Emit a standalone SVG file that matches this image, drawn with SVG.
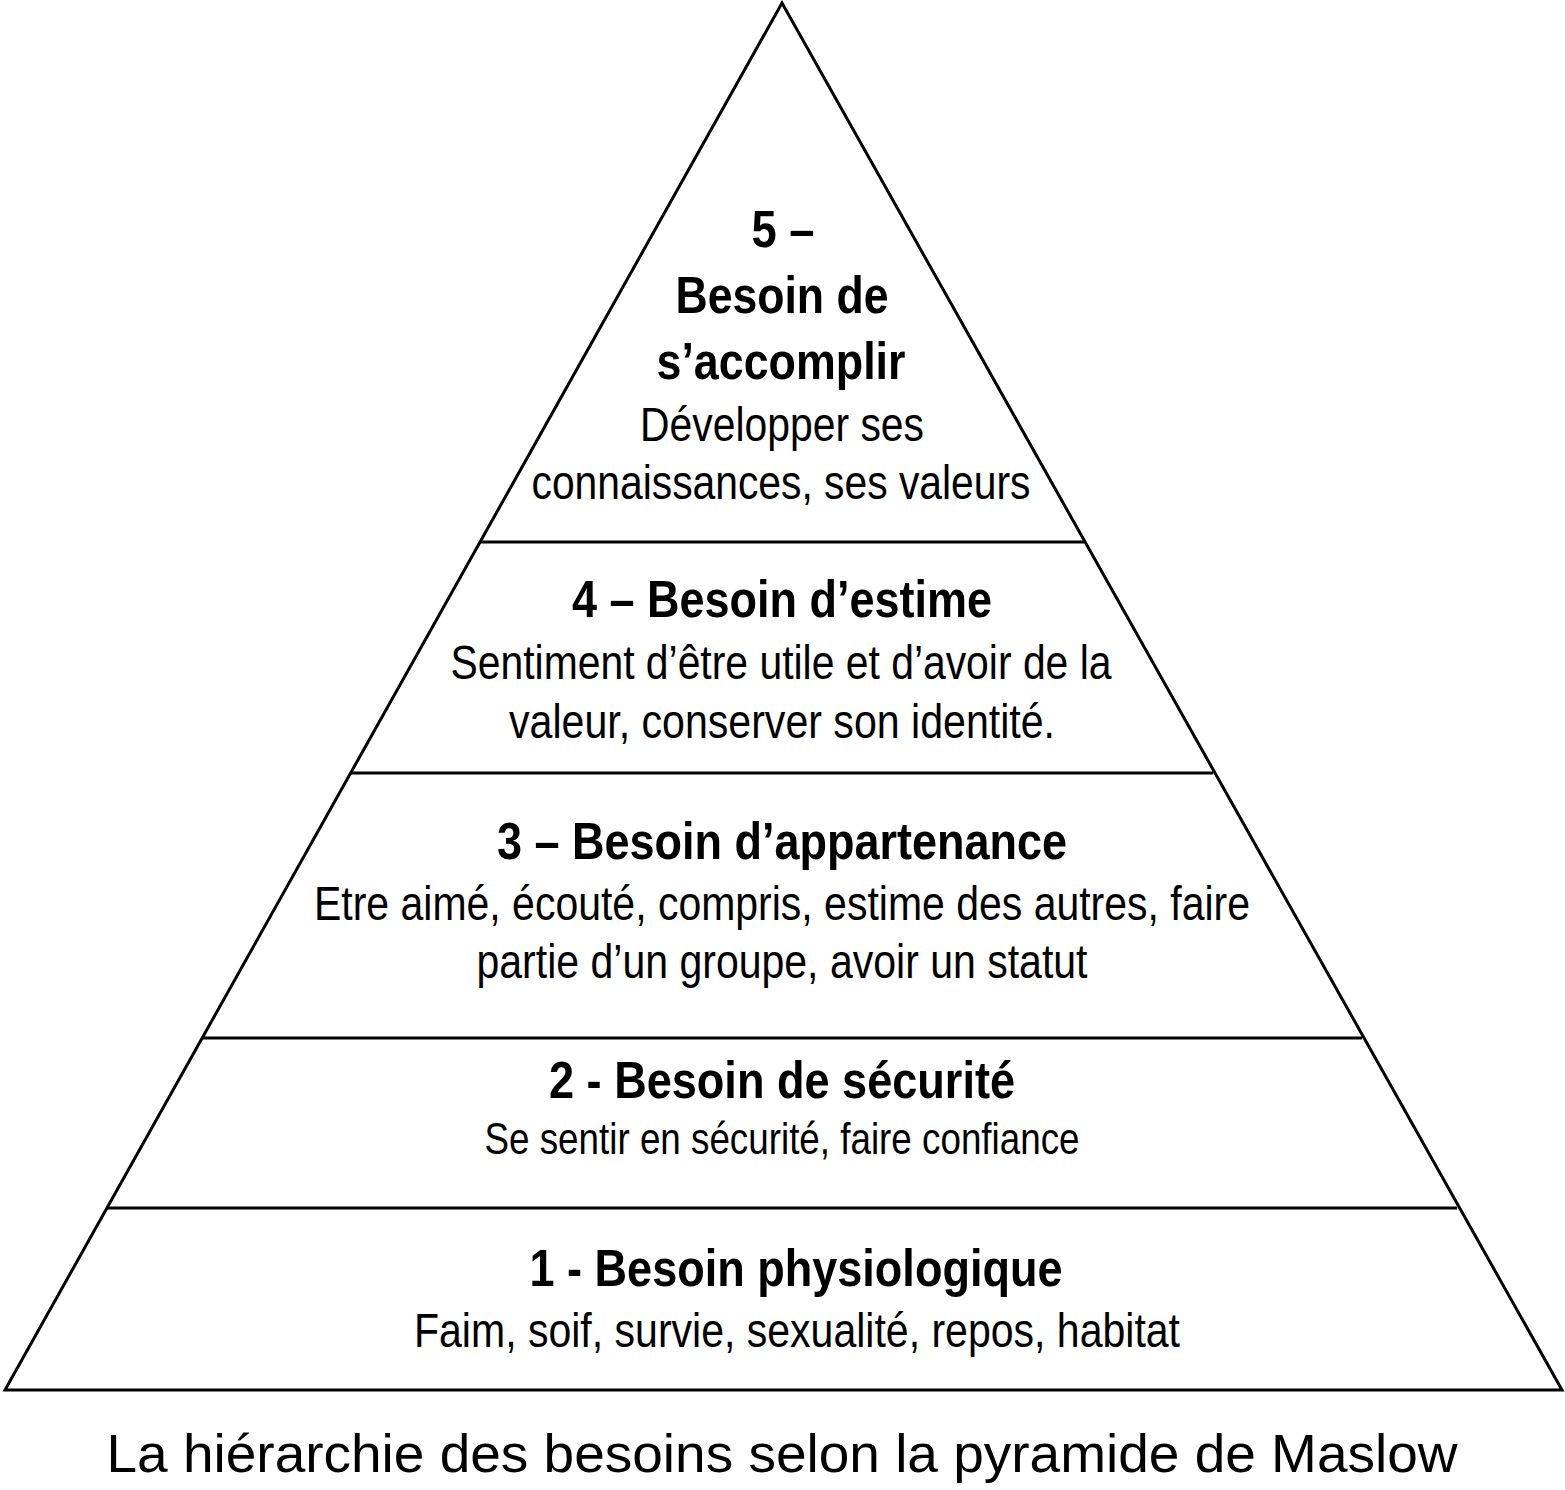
<svg xmlns="http://www.w3.org/2000/svg" width="1565" height="1490" viewBox="0 0 1565 1490">
<style>
.edge{fill:none;stroke:#000;stroke-width:3;stroke-linejoin:miter}
text{font-family:"Liberation Sans",Arial,sans-serif;fill:#000;text-anchor:middle}
.t{font-weight:bold;font-size:52px}
.d{font-size:48px}
.s{font-size:44px}
.c{font-size:54px}
</style>
<rect width="1565" height="1490" fill="#fff"/>
<g id="connectors">
<polygon class="edge" points="782,3 5,1390 1562,1390"/>
<line class="edge" x1="480" y1="542" x2="1084" y2="542"/>
<line class="edge" x1="351" y1="773" x2="1213" y2="773"/>
<line class="edge" x1="202" y1="1038" x2="1362" y2="1038"/>
<line class="edge" x1="107" y1="1208" x2="1457" y2="1208"/>
</g>
<g id="level5">
<text class="t" x="783" y="247" textLength="63" lengthAdjust="spacingAndGlyphs">5 –</text>
<text class="t" x="782" y="313" textLength="213" lengthAdjust="spacingAndGlyphs">Besoin de</text>
<text class="t" x="781" y="379" textLength="249" lengthAdjust="spacingAndGlyphs">s’accomplir</text>
<text class="d" x="782" y="441" textLength="284" lengthAdjust="spacingAndGlyphs">Développer ses</text>
<text class="d" x="781" y="499" textLength="499" lengthAdjust="spacingAndGlyphs">connaissances, ses valeurs</text>
</g>
<g id="level4">
<text class="t" x="782" y="617" textLength="420" lengthAdjust="spacingAndGlyphs">4 – Besoin d’estime</text>
<text class="d" x="781" y="679" textLength="661" lengthAdjust="spacingAndGlyphs">Sentiment d’être utile et d’avoir de la</text>
<text class="d" x="782" y="738" textLength="546" lengthAdjust="spacingAndGlyphs">valeur, conserver son identité.</text>
</g>
<g id="level3">
<text class="t" x="782" y="859" textLength="570" lengthAdjust="spacingAndGlyphs">3 – Besoin d’appartenance</text>
<text class="d" x="782" y="920" textLength="936" lengthAdjust="spacingAndGlyphs">Etre aimé, écouté, compris, estime des autres, faire</text>
<text class="d" x="782" y="978" textLength="611" lengthAdjust="spacingAndGlyphs">partie d’un groupe, avoir un statut</text>
</g>
<g id="level2">
<text class="t" x="782" y="1098" textLength="466" lengthAdjust="spacingAndGlyphs">2 - Besoin de sécurité</text>
<text class="s" x="782" y="1154" textLength="595" lengthAdjust="spacingAndGlyphs">Se sentir en sécurité, faire confiance</text>
</g>
<g id="level1">
<text class="t" x="796" y="1286" textLength="533" lengthAdjust="spacingAndGlyphs">1 - Besoin physiologique</text>
<text class="d" x="797" y="1347" textLength="766" lengthAdjust="spacingAndGlyphs">Faim, soif, survie, sexualité, repos, habitat</text>
</g>
<g id="caption">
<text class="c" x="782" y="1472" textLength="1351" lengthAdjust="spacingAndGlyphs">La hiérarchie des besoins selon la pyramide de Maslow</text>
</g>
</svg>
